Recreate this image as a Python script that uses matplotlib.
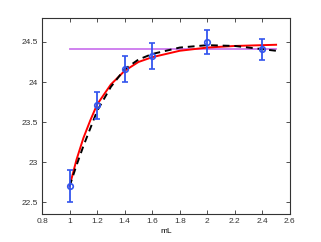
import matplotlib
matplotlib.use("Agg")
import matplotlib.pyplot as plt

# measured data
x_data = [1.0, 1.2, 1.4, 1.6, 2.0, 2.4]
y_data = [22.70, 23.71, 24.16, 24.325, 24.50, 24.41]
y_err = [0.20, 0.17, 0.16, 0.16, 0.15, 0.13]

# fitted curves
x_curve = [1.0, 1.05, 1.1, 1.15, 1.2, 1.3, 1.4, 1.5, 1.6, 1.8, 2.0, 2.2, 2.4, 2.5]
y_red = [22.70, 23.03, 23.30, 23.52, 23.72, 23.97, 24.14, 24.25, 24.31, 24.39, 24.43, 24.45, 24.46, 24.465]
y_black = [22.70, 22.96, 23.20, 23.42, 23.64, 23.94, 24.16, 24.28, 24.35, 24.43, 24.46, 24.45, 24.41, 24.39]

# horizontal reference level
x_level = [1.0, 2.5]
y_level = [24.41, 24.41]

x_ticks = [0.8, 1, 1.2, 1.4, 1.6, 1.8, 2, 2.2, 2.4, 2.6]
x_ticklabels = ["0.8", "1", "1.2", "1.4", "1.6", "1.8", "2", "2.2", "2.4", "2.6"]
y_ticks = [22.5, 23, 23.5, 24, 24.5]
y_ticklabels = ["22.5", "23", "23.5", "24", "24.5"]

plt.rcParams['font.family'] = ['Liberation Sans', 'DejaVu Sans']

fig = plt.figure(figsize=(3.21, 2.42), dpi=100)
ax = fig.add_axes([0.131, 0.1145, 0.772, 0.8115])

ax.plot(x_level, y_level, color="#cc77ee", lw=1.3, zorder=1)
ax.plot(x_curve, y_red, color="#ff0000", lw=1.4, zorder=2)
ax.plot(x_curve, y_black, color="black", lw=1.4, ls=(0, (3.5, 2.5)), zorder=3)
ax.errorbar(x_data, y_data, yerr=y_err, fmt="o", color="#3355ee", mfc="none",
            mec="#3355ee", ms=4, mew=1.2, elinewidth=1.3, capsize=2.5, capthick=1.2,
            zorder=4)

ax.set_xlim(0.8, 2.6)
ax.set_ylim(22.35, 24.8)
ax.set_xticks(x_ticks)
ax.set_xticklabels(x_ticklabels)
ax.set_yticks(y_ticks)
ax.set_yticklabels(y_ticklabels)
ax.tick_params(direction="in", length=3, width=0.6, labelsize=6, colors="#333333",
               top=True, right=True, pad=3)
for s in ax.spines.values():
    s.set_color("#333333")
    s.set_linewidth(0.8)
ax.set_xlabel("mL", fontsize=6, labelpad=2)

fig.savefig("out.png", dpi=100)
